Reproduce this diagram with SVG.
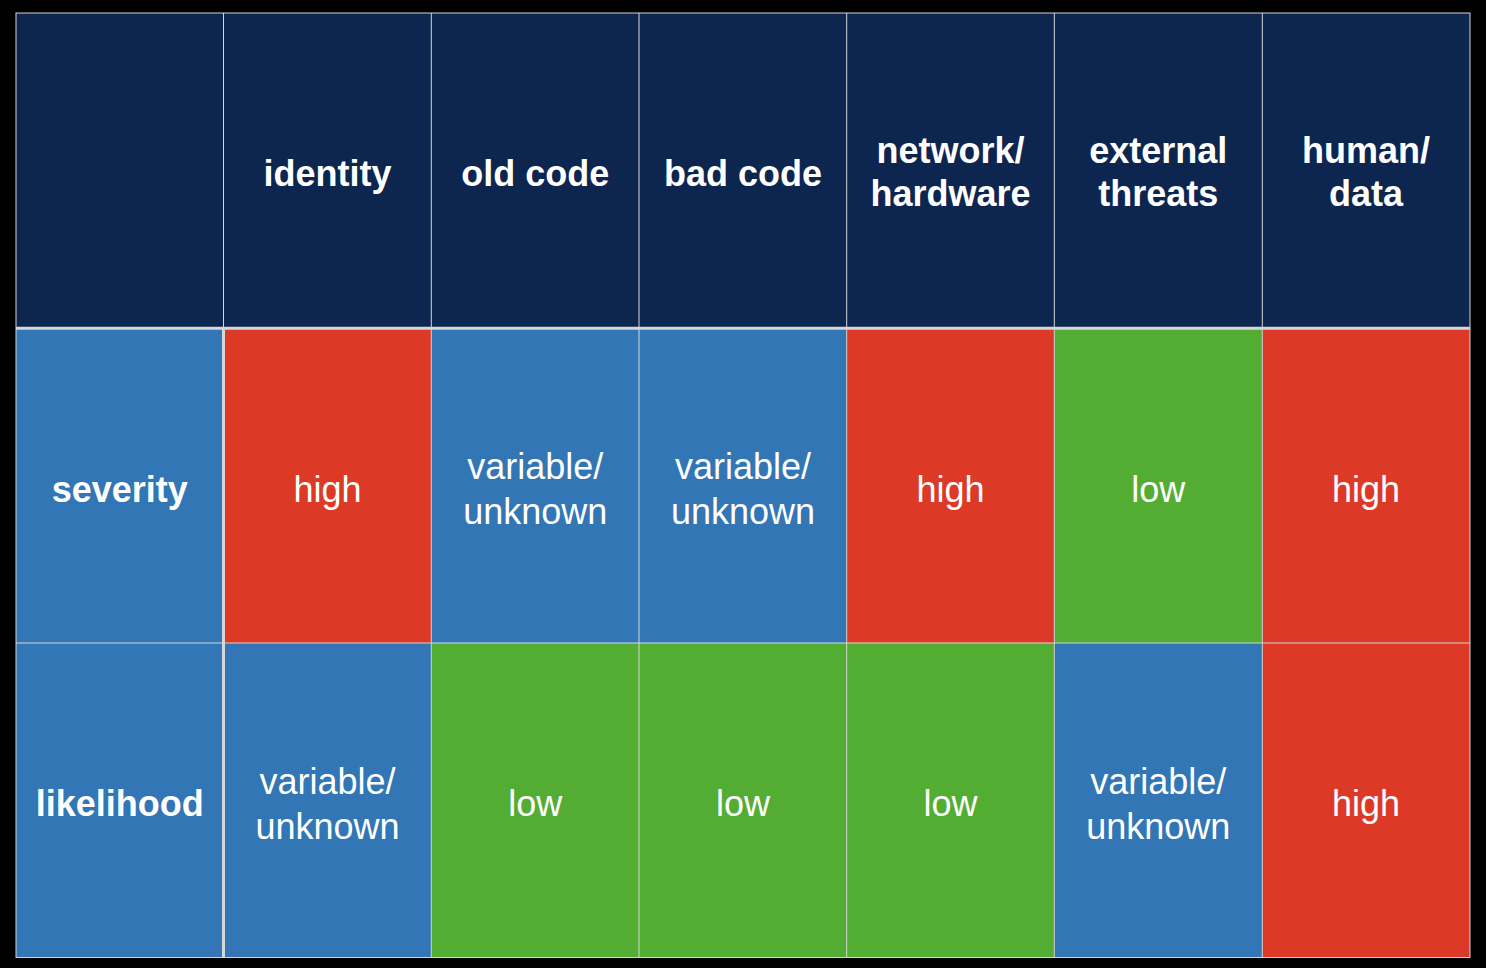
<svg xmlns="http://www.w3.org/2000/svg" width="1486" height="968" viewBox="0 0 1486 968">
<style>
.navy{fill:#0D264F}
.blue{fill:#3276B5}
.red{fill:#DC3A26}
.green{fill:#53AD33}
.hd{font-family:"Liberation Sans",Arial,Helvetica,sans-serif;font-size:36px;font-weight:bold;fill:#FFFFFF;text-anchor:middle}
.bd{font-family:"Liberation Sans",Arial,Helvetica,sans-serif;font-size:36px;font-weight:normal;fill:#FFFFFF;text-anchor:middle}
.thin{stroke:#D6D6D6;stroke-width:1;fill:none}
.thick{stroke:#D6D6D6;stroke-width:3;fill:none}
</style>
<rect x="0" y="0" width="1486" height="968" fill="#000000"/>
<g id="header-row">
<rect class="navy" x="16" y="13" width="1454" height="315"/>
<text class="hd" x="327.6" y="186">identity</text>
<text class="hd" x="535.3" y="186">old code</text>
<text class="hd" x="743" y="186">bad code</text>
<text class="hd" x="950.6" y="163">network/</text>
<text class="hd" x="950.6" y="206">hardware</text>
<text class="hd" x="1158.3" y="163">external</text>
<text class="hd" x="1158.3" y="206">threats</text>
<text class="hd" x="1366.1" y="163">human/</text>
<text class="hd" x="1366.1" y="206">data</text>
</g>
<g id="severity-row">
<rect class="blue" x="16" y="328" width="207.5" height="315"/>
<rect class="red" x="223.5" y="328" width="207.8" height="315"/>
<rect class="blue" x="431.3" y="328" width="415.4" height="315"/>
<rect class="red" x="846.7" y="328" width="207.6" height="315"/>
<rect class="green" x="1054.3" y="328" width="208" height="315"/>
<rect class="red" x="1262.3" y="328" width="207.7" height="315"/>
<text class="hd" x="119.8" y="502">severity</text>
<text class="bd" x="327.6" y="502">high</text>
<text class="bd" x="535.3" y="479">variable/</text>
<text class="bd" x="535.3" y="524">unknown</text>
<text class="bd" x="743" y="479">variable/</text>
<text class="bd" x="743" y="524">unknown</text>
<text class="bd" x="950.6" y="502">high</text>
<text class="bd" x="1158.3" y="502">low</text>
<text class="bd" x="1366.1" y="502">high</text>
</g>
<g id="likelihood-row">
<rect class="blue" x="16" y="643" width="415.3" height="314.5"/>
<rect class="green" x="431.3" y="643" width="623" height="314.5"/>
<rect class="blue" x="1054.3" y="643" width="208" height="314.5"/>
<rect class="red" x="1262.3" y="643" width="207.7" height="314.5"/>
<text class="hd" x="119.8" y="816">likelihood</text>
<text class="bd" x="327.6" y="794">variable/</text>
<text class="bd" x="327.6" y="839">unknown</text>
<text class="bd" x="535.3" y="816">low</text>
<text class="bd" x="743" y="816">low</text>
<text class="bd" x="950.6" y="816">low</text>
<text class="bd" x="1158.3" y="794">variable/</text>
<text class="bd" x="1158.3" y="839">unknown</text>
<text class="bd" x="1366.1" y="816">high</text>
</g>
<g id="grid-lines">
<rect class="thin" x="16" y="13" width="1454" height="944.5"/>
<line class="thin" x1="223.5" y1="13" x2="223.5" y2="328"/>
<line class="thick" x1="223.5" y1="328" x2="223.5" y2="957.5"/>
<line class="thin" x1="431.3" y1="13" x2="431.3" y2="957.5"/>
<line class="thin" x1="639" y1="13" x2="639" y2="957.5"/>
<line class="thin" x1="846.7" y1="13" x2="846.7" y2="957.5"/>
<line class="thin" x1="1054.3" y1="13" x2="1054.3" y2="957.5"/>
<line class="thin" x1="1262.3" y1="13" x2="1262.3" y2="957.5"/>
<line class="thick" x1="16" y1="328.3" x2="1470" y2="328.3"/>
<line class="thin" x1="16" y1="643" x2="1470" y2="643"/>
</g>
</svg>
